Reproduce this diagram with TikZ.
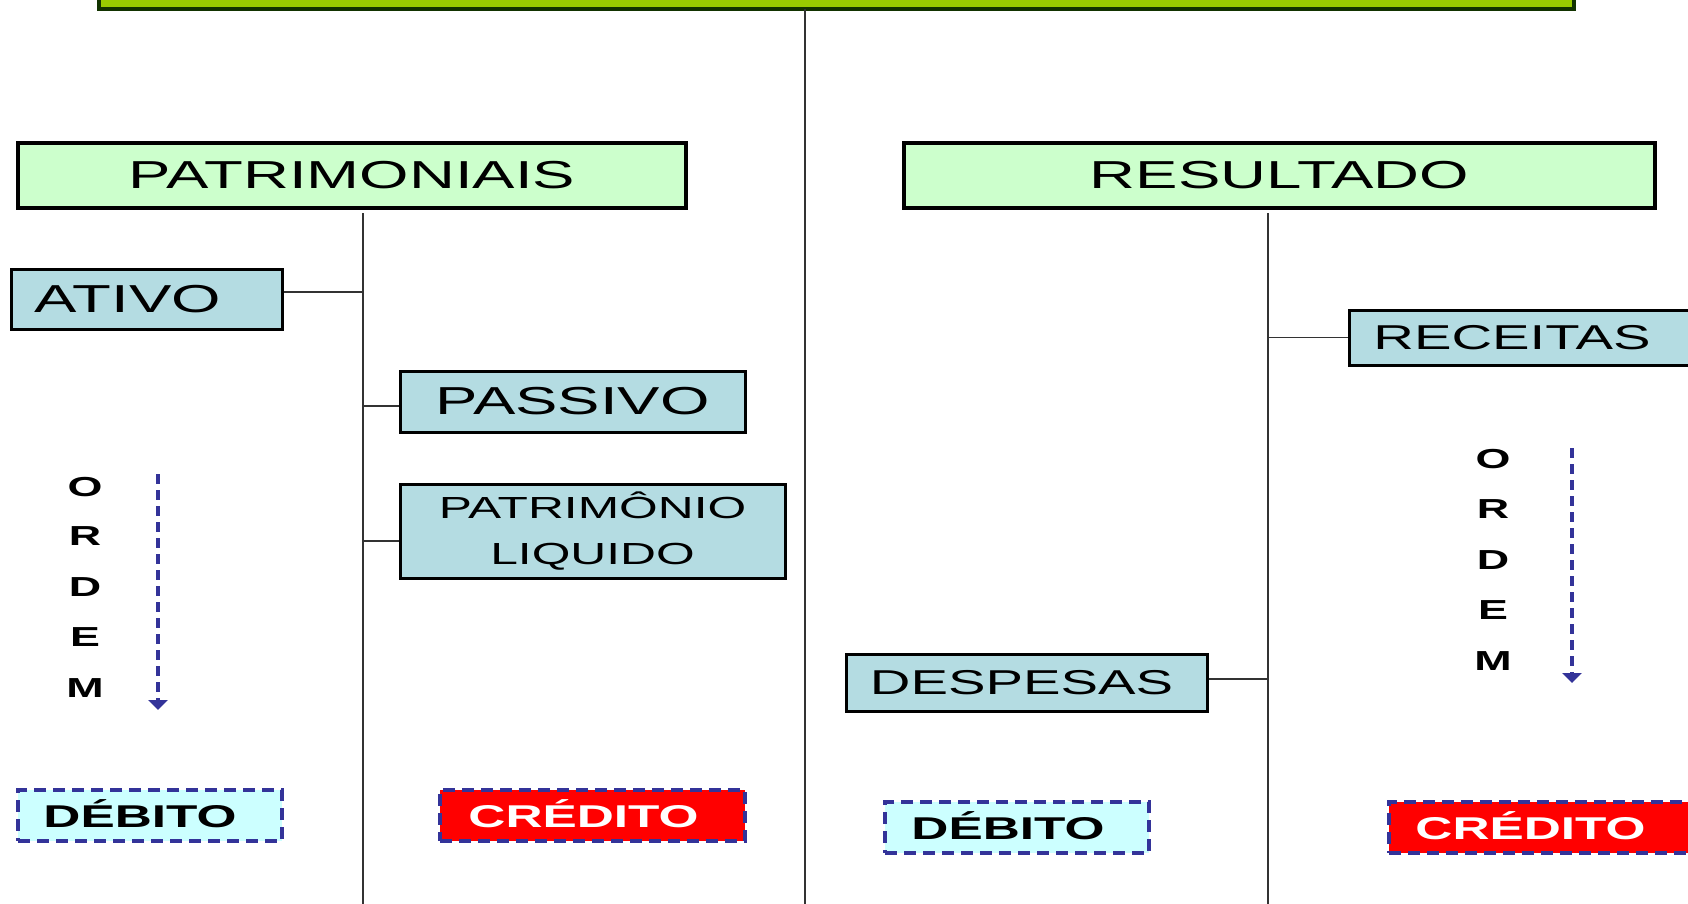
\documentclass[tikz,border=0pt]{standalone}
\usepackage{fontspec}
\setmainfont{Liberation Sans}
\newfontfamily\wide[FakeStretch=1.63]{Liberation Sans}
\usetikzlibrary{arrows.meta}
\definecolor{barg}{HTML}{99CC00}
\definecolor{barborder}{HTML}{123300}
\definecolor{hdrfill}{HTML}{CCFFCC}
\definecolor{acctfill}{RGB}{180,220,226}
\definecolor{debfill}{HTML}{CCFFFF}
\definecolor{navy}{HTML}{333399}
\definecolor{linegray}{HTML}{333333}
\newcommand{\sh}[1]{\hspace*{#1pt}}
\tikzset{
  hdr/.style={draw=black, line width=4.5pt, fill=hdrfill, minimum height=65pt, inner sep=0pt,
    font=\wide\fontsize{39}{44}\selectfont},
  acct/.style={draw=black, line width=3pt, fill=acctfill, inner sep=0pt,
    font=\wide\fontsize{39}{44}\selectfont},
  acctsm/.style={acct, font=\wide\fontsize{34.5}{40}\selectfont},
  deb/.style={draw=navy, line width=3.6pt, dash pattern=on 12pt off 7pt, fill=debfill,
    minimum width=264pt, minimum height=51pt, inner sep=0pt, text height=24pt, text depth=0pt,
    font=\wide\bfseries\fontsize{31.5}{36}\selectfont},
  cred/.style={deb, fill=red, text=white, minimum width=305pt},
  ordem/.style={font=\wide\bfseries\fontsize{27.5}{32}\selectfont, inner sep=0pt},
  vline/.style={draw=linegray, line width=2pt},
  conn/.style={draw=linegray, line width=1.4pt},
  ordarrow/.style={draw=navy, line width=3.5pt, dash pattern=on 10pt off 6pt,
    -{Triangle[width=19pt,length=10pt]}},
}
\begin{document}
\begin{tikzpicture}[x=1pt,y=-1pt]
\useasboundingbox (0,0) rectangle (1688,903);
\fill[white] (0,0) rectangle (1688,903);

% top bar
\node[draw=barborder, fill=barg, line width=4.5pt, minimum width=1475pt, minimum height=40pt, inner sep=0pt] (topbar) at (836.5,-11) {};

% main vertical line
\coordinate (ctop) at (805,9);
\coordinate (cbot) at (805,910);
\draw[vline] (ctop) -- (cbot);

% headers
\node[hdr, minimum width=668pt] (patr) at (352,175.5) {PATRIMONIAIS};
\node[hdr, minimum width=751pt] (res) at (1279.5,175.5) {RESULTADO};

% sub vertical lines
\coordinate (pv1) at (363,213);
\coordinate (pv2) at (363,910);
\coordinate (rv1) at (1268,213);
\coordinate (rv2) at (1268,910);
\draw[vline] (pv1) -- (pv2);
\draw[vline] (rv1) -- (rv2);

% account boxes
\node[acct, minimum width=271pt, minimum height=60pt] (ativo) at (146.5,299) {ATIVO\sh{37}};
\node[acct, minimum width=345pt, minimum height=61pt] (passivo) at (572.5,401.5) {PASSIVO};
\node[acct, minimum width=385pt, minimum height=94pt, align=center,
  font=\wide\fontsize{30.5}{46}\selectfont] (pl) at (592.5,531) {PATRIMÔNIO\\LIQUIDO};
\node[acctsm, minimum width=351pt, minimum height=55pt] (rec) at (1524.5,337.5) {RECEITAS\sh{25}};
\node[acctsm, minimum width=361pt, minimum height=57pt] (desp) at (1026.5,682.5) {DESPESAS\sh{10}};

% connectors
\coordinate (a1) at ([yshift=7pt]ativo.east);
\draw[conn] (a1) -- (a1 -| pv1);
\coordinate (a2) at ([yshift=-4.5pt]passivo.west);
\draw[conn] (a2 -| pv1) -- (a2);
\coordinate (a3) at ([yshift=-10pt]pl.west);
\draw[conn] (a3 -| pv1) -- (a3);
\coordinate (a4) at (rec.west);
\draw[conn] (a4 -| rv1) -- (a4);
\coordinate (a5) at ([yshift=3.5pt]desp.east);
\draw[conn] (a5) -- (a5 -| rv1);

% ORDEM left
\node[ordem] (lo) at (85,487) {O};
\node[ordem] (lr) at (85,536) {R};
\node[ordem] (ld) at (85,587) {D};
\node[ordem] (le) at (85,637) {E};
\node[ordem] (lm) at (85,688) {M};
\coordinate (la1) at (158,474);
\coordinate (la2) at (158,710);
\draw[ordarrow] (la1) -- (la2);

% ORDEM right
\node[ordem] (ro) at (1493,459) {O};
\node[ordem] (rr) at (1493,509) {R};
\node[ordem] (rd) at (1493,560) {D};
\node[ordem] (re) at (1493,610) {E};
\node[ordem] (rm) at (1493,661) {M};
\coordinate (ra1) at (1572,448);
\coordinate (ra2) at (1572,683);
\draw[ordarrow] (ra1) -- (ra2);

% debit / credit
\node[deb] (debl) at (150,815.5) {DÉBITO\sh{20}};
\node[cred] (credl) at (592.5,815.5) {CRÉDITO\sh{18}};
\node[deb] (debr) at (1017,827.5) {DÉBITO\sh{18}};
\node[cred, minimum width=311pt] (credr) at (1544.5,827.5) {CRÉDITO\sh{28}};
\end{tikzpicture}
\end{document}
